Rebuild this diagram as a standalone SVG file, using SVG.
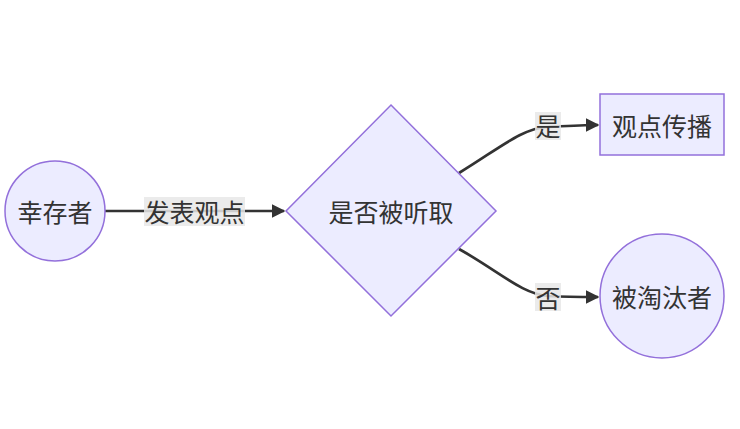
<svg xmlns="http://www.w3.org/2000/svg" width="740" height="429" viewBox="0 0 740 429">
<style>
.node{fill:#ECECFF;stroke:#9370DB;stroke-width:1.5}
.edge{fill:none;stroke:#333333;stroke-width:2.7}
.lbg{fill:#E8E8E8;fill-opacity:0.85}
text{font-family:"Noto Sans CJK SC","Noto Sans",sans-serif;font-size:25px;fill:#333333;text-anchor:middle;dominant-baseline:central}
</style>
<defs>
<marker id="arr" viewBox="0 0 10 10" refX="9" refY="5" markerWidth="5" markerHeight="5" markerUnits="strokeWidth" orient="auto">
<path d="M0,0 L10,5 L0,10 z" fill="#333333"/>
</marker>
</defs>
<rect width="740" height="429" fill="#ffffff"/>
<g id="edges">
<path class="edge" d="M105,211 L284,211" marker-end="url(#arr)"/>
<path class="edge" d="M459,173 C500,148 522,128 548,127 C566,126 582,125 598,125" marker-end="url(#arr)"/>
<path class="edge" d="M459,249 C500,272 522,294 548,296 C566,297 582,297 598,297" marker-end="url(#arr)"/>
<rect class="lbg" x="144" y="197" width="101" height="29"/>
<text x="194.5" y="211">发表观点</text>
<rect class="lbg" x="535" y="112" width="26" height="28"/>
<text x="548" y="125">是</text>
<rect class="lbg" x="535" y="283" width="26" height="28"/>
<text x="548" y="297">否</text>
</g>
<g id="survivor">
<circle class="node" cx="55" cy="211" r="50"/>
<text x="55" y="211">幸存者</text>
</g>
<g id="heard">
<polygon class="node" points="391,105 496,211 391,316 286,211"/>
<text x="391" y="211">是否被听取</text>
</g>
<g id="spread">
<rect class="node" x="600" y="94" width="124" height="61"/>
<text x="662" y="125">观点传播</text>
</g>
<g id="eliminated">
<circle class="node" cx="662" cy="296" r="62"/>
<text x="662" y="296">被淘汰者</text>
</g>
</svg>
